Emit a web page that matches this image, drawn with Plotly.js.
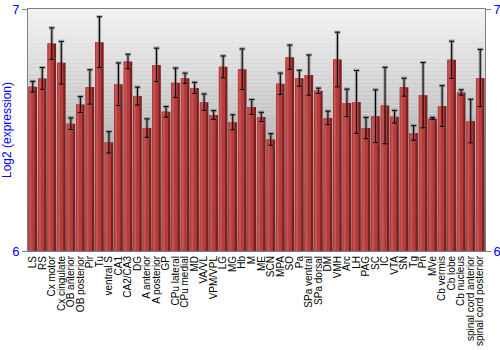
<!DOCTYPE html>
<html>
<head>
<meta charset="utf-8">
<script src="https://cdn.plot.ly/plotly-3.0.1.min.js"></script>
<style>html,body{margin:0;padding:0;background:#fff;}#chart{width:500px;height:350px;}</style>
</head>
<body>
<div id="chart"></div>
<script>
var categories = ["LS","RS","Cx motor","Cx cingulate","OB anterior","OB posterior","Pir","Tu","ventral S","CA1","CA2/CA3","DG","A anterior","A posterior","GP","CPu lateral","CPu medial","MD","VA/VL","VPM/VPL","LG","MG","Hb","M","ME","SCN","MPA","SO","Pa","SPa ventral","SPa dorsal","DM","VMH","Arc","LH","PAG","SC","IC","VTA","SN","Tg","Pn","MVe","Cb vermis","Cb lobe","Cb nucleus","spinal cord anterior","spinal cord posterior"];
var values = [6.679,6.713,6.857,6.778,6.526,6.605,6.678,6.863,6.449,6.689,6.783,6.640,6.508,6.769,6.575,6.695,6.714,6.674,6.615,6.562,6.761,6.532,6.751,6.595,6.554,6.461,6.691,6.801,6.714,6.727,6.662,6.550,6.791,6.612,6.616,6.508,6.557,6.601,6.555,6.677,6.488,6.644,6.548,6.599,6.790,6.655,6.537,6.715];
var errors = [0.022,0.045,0.065,0.088,0.024,0.033,0.071,0.105,0.044,0.088,0.030,0.037,0.038,0.069,0.022,0.061,0.021,0.023,0.034,0.018,0.045,0.031,0.084,0.031,0.019,0.024,0.044,0.050,0.033,0.083,0.011,0.028,0.113,0.057,0.130,0.044,0.109,0.158,0.026,0.037,0.030,0.135,0.004,0.084,0.077,0.011,0.090,0.118];
var yTicks = [6,7];

function barLayer(color, width, offset, err){
  var t = {type:'bar', x:categories, y:values, base:0, width:width, offset:offset,
    marker:{color:color, line:{width:0}}, hoverinfo:'skip', showlegend:false};
  if(err){ t.error_y = err; }
  return t;
}
var traces = [
  barLayer('#7a2020', 0.9, -0.45, {type:'data', array:errors, visible:true, color:'rgba(110,110,110,0.55)', thickness:3.2, width:3}),
  barLayer('#b43c3c', 0.66, -0.45),
  barLayer('#c65252', 0.22, -0.36),
  barLayer('rgba(0,0,0,0)', 0.9, -0.45, {type:'data', array:errors, visible:true, color:'#000000', thickness:1, width:2.5}),
  {type:'scatter', x:[categories[0]], y:[6], yaxis:'y2', mode:'markers', marker:{opacity:0}, hoverinfo:'skip', showlegend:false}
];

// background gradient strips (style only)
var shapes = [];
var N = 60;
for (var i=0;i<N;i++){
  var f = i/N;
  var g = Math.round(242 - f*105);
  shapes.push({type:'rect', xref:'paper', yref:'paper', x0:0, x1:1, y0:1-(i+1)/N, y1:1-i/N,
    fillcolor:'rgb('+g+','+g+','+g+')', line:{width:0}, layer:'below'});
}

var layout = {
  width:500, height:350,
  margin:{l:28, r:15, t:9, b:99, pad:0},
  paper_bgcolor:'#ffffff', plot_bgcolor:'#ffffff',
  barmode:'overlay',
  bargap:0.1,
  showlegend:false,
  shapes:shapes,
  font:{family:'Liberation Sans, Arial, sans-serif', color:'#000'},
  xaxis:{type:'category', tickmode:'array', tickvals:categories, ticktext:categories,
    tickangle:-90, tickfont:{size:10, color:'#000'},
    showgrid:false, zeroline:false, showline:true, linecolor:'#808080', mirror:true,
    ticks:'', automargin:false, range:[-0.5, categories.length-0.5]},
  yaxis:{range:[6,7], tickvals:yTicks, ticktext:yTicks.map(String), tickfont:{size:13, color:'#0000ff'},
    showgrid:false, zeroline:false, showline:true, linecolor:'#808080', mirror:true,
    ticks:'outside', ticklen:5, tickcolor:'#808080', automargin:false,
    title:{text:'Log2 (expression)', font:{size:12, color:'#0000ff'}, standoff:4}},
  yaxis2:{range:[6,7], overlaying:'y', side:'right', tickvals:yTicks, ticktext:yTicks.map(String),
    tickfont:{size:13, color:'#0000ff'}, showgrid:false, zeroline:false, showline:false,
    ticks:'outside', ticklen:5, tickcolor:'#808080', automargin:false}
};

Plotly.newPlot('chart', traces, layout, {displayModeBar:false, staticPlot:true});
</script>
</body>
</html>
